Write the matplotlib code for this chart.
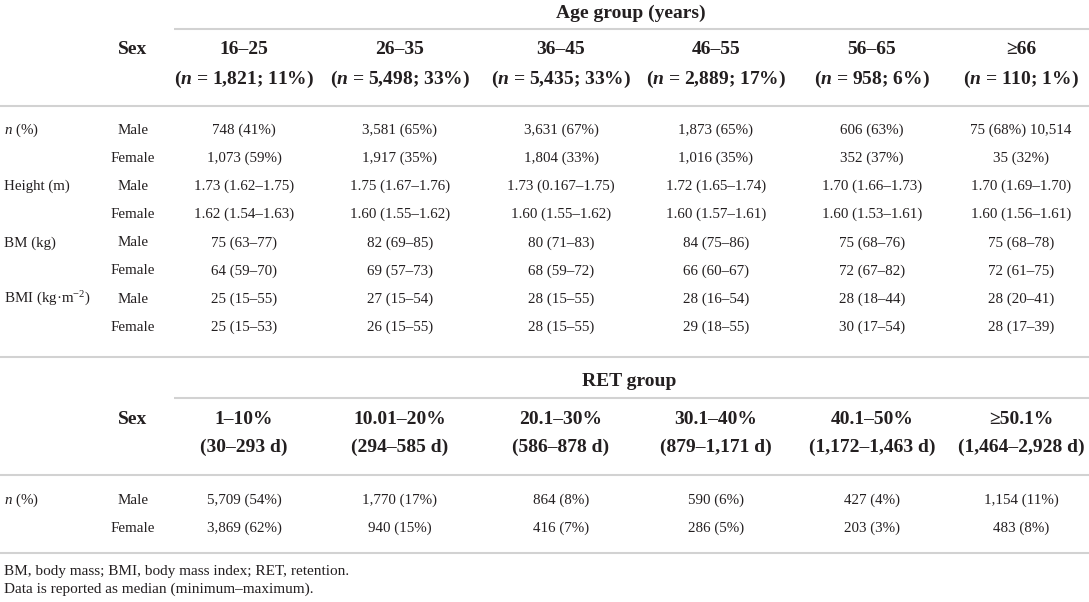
import matplotlib.pyplot as plt

plt.rcParams['font.family'] = ['Liberation Serif', 'DejaVu Serif']
plt.rcParams['mathtext.fontset'] = 'custom'
plt.rcParams['mathtext.rm'] = 'Liberation Serif'
plt.rcParams['mathtext.it'] = 'Liberation Serif:italic'
plt.rcParams['mathtext.bf'] = 'Liberation Serif:bold'
plt.rcParams['mathtext.bfit'] = 'Liberation Serif:italic:bold'

# --- dados da tabela ---
age_groups = ['16–25', '26–35', '36–45', '46–55', '56–65', '≥66']
age_n = ['1,821; 11%', '5,498; 33%', '5,435; 33%', '2,889; 17%', '958; 6%', '110; 1%']

row_labels = [r'$\mathit{n}$ (%)', '', 'Height (m)', '', 'BM (kg)', '',
              r'BMI (kg·m$^{-2}$)', '']
sexes = ['Male', 'Female', 'Male', 'Female', 'Male', 'Female', 'Male', 'Female']
age_values = [
    ['748 (41%)', '3,581 (65%)', '3,631 (67%)', '1,873 (65%)', '606 (63%)', '75 (68%) 10,514'],
    ['1,073 (59%)', '1,917 (35%)', '1,804 (33%)', '1,016 (35%)', '352 (37%)', '35 (32%)'],
    ['1.73 (1.62–1.75)', '1.75 (1.67–1.76)', '1.73 (0.167–1.75)', '1.72 (1.65–1.74)', '1.70 (1.66–1.73)', '1.70 (1.69–1.70)'],
    ['1.62 (1.54–1.63)', '1.60 (1.55–1.62)', '1.60 (1.55–1.62)', '1.60 (1.57–1.61)', '1.60 (1.53–1.61)', '1.60 (1.56–1.61)'],
    ['75 (63–77)', '82 (69–85)', '80 (71–83)', '84 (75–86)', '75 (68–76)', '75 (68–78)'],
    ['64 (59–70)', '69 (57–73)', '68 (59–72)', '66 (60–67)', '72 (67–82)', '72 (61–75)'],
    ['25 (15–55)', '27 (15–54)', '28 (15–55)', '28 (16–54)', '28 (18–44)', '28 (20–41)'],
    ['25 (15–53)', '26 (15–55)', '28 (15–55)', '29 (18–55)', '30 (17–54)', '28 (17–39)'],
]

ret_groups = ['1–10%', '10.01–20%', '20.1–30%', '30.1–40%', '40.1–50%', '≥50.1%']
ret_days = ['(30–293 d)', '(294–585 d)', '(586–878 d)', '(879–1,171 d)',
            '(1,172–1,463 d)', '(1,464–2,928 d)']
ret_sexes = ['Male', 'Female']
ret_values = [
    ['5,709 (54%)', '1,770 (17%)', '864 (8%)', '590 (6%)', '427 (4%)', '1,154 (11%)'],
    ['3,869 (62%)', '940 (15%)', '416 (7%)', '286 (5%)', '203 (3%)', '483 (8%)'],
]

footnotes = ['BM, body mass; BMI, body mass index; RET, retention.',
             'Data is reported as median (minimum–maximum).']

# --- layout (pixels) ---
W, H = 1089, 602
col_x = [244, 400, 561, 716, 872, 1021]
sex_x = 133
label_x = 4
cor_texto = '#231f20'
cor_linha = '#d2d2d2'
fs_cab = 14
fs_dados = 10.8

fig = plt.figure(figsize=(W / 100, H / 100), dpi=100)
ax = fig.add_axes([0, 0, 1, 1])
ax.set_xlim(0, W)
ax.set_ylim(H, 0)
ax.axis('off')


def linha(y, x0=0, x1=W):
    ax.hlines(y, x0, x1, color=cor_linha, linewidth=1.5)


def txt(x, y, s, ha='center', bold=False, size=fs_dados):
    ax.text(x, y, s, ha=ha, va='center', fontsize=size, color=cor_texto,
            fontweight='bold' if bold else 'normal')


# bloco 1: grupos de idade
txt(631, 13, 'Age group (years)', bold=True, size=fs_cab)
linha(29, 174)
txt(sex_x, 50, 'Sex', bold=True, size=fs_cab)
for x, g, n in zip(col_x, age_groups, age_n):
    txt(x, 50, g, bold=True, size=fs_cab)
    txt(x, 79, r'($\mathbfit{n}$ = ' + n + ')', bold=True, size=fs_cab)
linha(106)

y0, dy = 130, 28.2
for i, (lab, sx, vals) in enumerate(zip(row_labels, sexes, age_values)):
    y = y0 + i * dy
    if lab:
        txt(label_x, y, lab, ha='left')
    txt(sex_x, y, sx)
    for x, v in zip(col_x, vals):
        txt(x, y, v)
linha(357)

# bloco 2: grupos RET
txt(629, 382, 'RET group', bold=True, size=fs_cab)
linha(398, 174)
txt(sex_x, 420, 'Sex', bold=True, size=fs_cab)
for x, g, d in zip(col_x, ret_groups, ret_days):
    txt(x, 420, g, bold=True, size=fs_cab)
    txt(x, 447, d, bold=True, size=fs_cab)
linha(475)

for i, (sx, vals) in enumerate(zip(ret_sexes, ret_values)):
    y = 500 + i * 28
    if i == 0:
        txt(label_x, y, r'$\mathit{n}$ (%)', ha='left')
    txt(sex_x, y, sx)
    for x, v in zip(col_x, vals):
        txt(x, y, v)
linha(553)

# notas de rodapé
txt(label_x, 572, footnotes[0], ha='left', size=11)
txt(label_x, 589, footnotes[1], ha='left', size=11)

fig.savefig('out.png', dpi=100)
